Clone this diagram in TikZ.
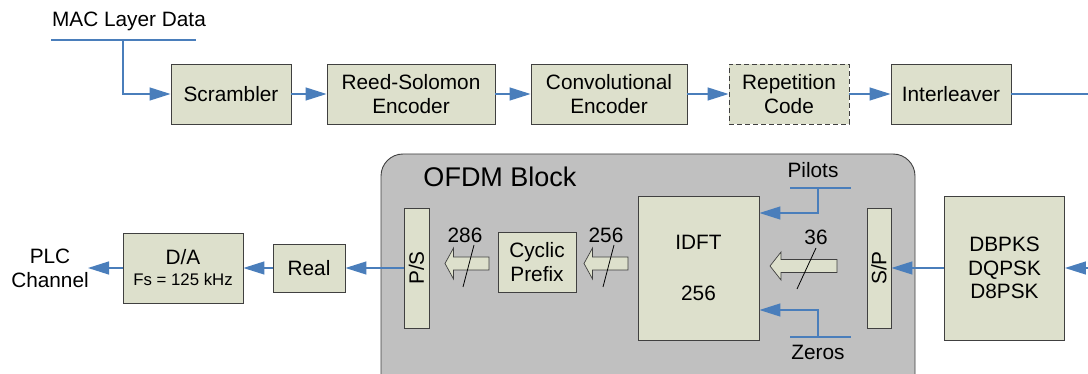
\documentclass[tikz,border=0pt]{standalone}
\usepackage{fontspec}
\setmainfont{Liberation Sans}
\usetikzlibrary{arrows.meta}
\definecolor{boxfill}{HTML}{DDE0CC}
\definecolor{boxline}{HTML}{404040}
\definecolor{flowblue}{HTML}{4A7EBB}
\definecolor{ofdmgray}{HTML}{C0C0C0}
\newcommand\fsmain{\fontsize{20.8}{24}\selectfont}
\newcommand\fssmall{\fontsize{16.8}{19}\selectfont}
\newcommand\fsbig{\fontsize{27}{30}\selectfont}
% wide hollow arrow pointing left: tip x, tail x, centre y, half head, head length
\newcommand\fatleft[5]{%
  \draw[fatstyle] (#2,#3-6.5) -- (#1+#5,#3-6.5) -- (#1+#5,#3-#4) -- (#1,#3)
    -- (#1+#5,#3+#4) -- (#1+#5,#3+6.5) -- (#2,#3+6.5) -- cycle;}
\tikzset{
  blk/.style={draw=boxline, fill=boxfill, line width=0.9pt, inner sep=0pt,
    align=center, font=\fsmain},
  flow/.style={draw=flowblue, line width=1.3pt,
    -{Triangle[length=21pt,width=13pt]}},
  bar/.style={draw=flowblue, line width=1.3pt},
  fatstyle/.style={draw=boxline, fill=boxfill, line width=0.7pt},
  slash/.style={draw=black, line width=0.8pt},
  lbl/.style={inner sep=0pt, font=\fsmain, align=center},
}
\begin{document}
\begin{tikzpicture}[x=1pt, y=-1pt]
  \useasboundingbox (0,0) rectangle (1088,374);
  \clip (0,0) rectangle (1088,374);

  % ---- channel coding chain ----
  \node[lbl] (mac) at (129,21) {MAC Layer Data};
  \coordinate (macl) at (51,40);
  \coordinate (macr) at (196,40);
  \coordinate (macdrop) at (123,40);
  \draw[bar] (macl) -- (macr);

  \node[blk, minimum width=120pt, minimum height=60pt] (scr) at (231,94) {Scrambler};
  \node[blk, minimum width=168pt, minimum height=60pt] (rs) at (411,94) {Reed-Solomon\\Encoder};
  \node[blk, minimum width=156pt, minimum height=60pt] (conv) at (609,94) {Convolutional\\Encoder};
  \node[blk, dash pattern=on 5pt off 3pt, minimum width=120pt, minimum height=60pt] (rep) at (789,94) {Repetition\\Code};
  \node[blk, minimum width=120pt, minimum height=60pt] (intl) at (951,94) {Interleaver};
  \coordinate (outr) at (1088,94);

  \draw[flow] (macdrop) |- (scr.west);
  \draw[flow] (scr) -- (rs);
  \draw[flow] (rs) -- (conv);
  \draw[flow] (conv) -- (rep);
  \draw[flow] (rep) -- (intl);
  \draw[bar] (intl.east) -- (outr);

  % ---- OFDM block ----
  \draw[draw=boxline, fill=ofdmgray, line width=0.9pt, rounded corners=22pt]
    (381,154) rectangle (915,420);
  \node[inner sep=0pt, font=\fsbig] (ofdm) at (500,177) {OFDM Block};

  \node[blk, minimum width=25pt, minimum height=120pt] (ps) at (416.5,268) {};
  \node[lbl, rotate=90] at (ps) {P/S};
  \node[blk, minimum width=78pt, minimum height=60pt] (cp) at (537,262) {Cyclic\\Prefix};
  \node[blk, minimum width=121pt, minimum height=144pt] (idft) at (698.5,268) {IDFT\\[27pt]256};
  \node[blk, minimum width=24pt, minimum height=120pt] (sp) at (879,268) {};
  \node[lbl, rotate=90] at (sp) {S/P};
  \node[blk, minimum width=120pt, minimum height=144pt] (mod) at (1004.5,268) {DBPKS\\[-0.5pt]DQPSK\\[-0.5pt]D8PSK};
  \coordinate (inr) at (1088,268);

  % pilots and zeros
  \node[lbl] (pil) at (813,170) {Pilots};
  \coordinate (pill) at (790,188);
  \coordinate (pilr) at (851,188);
  \coordinate (pild) at (818,188);
  \draw[bar] (pill) -- (pilr);
  \draw[flow] (pild) |- ([yshift=55pt]idft.east);

  \node[lbl] (zer) at (818,352) {Zeros};
  \coordinate (zerl) at (790,337);
  \coordinate (zerr) at (851,337);
  \coordinate (zeru) at (818,337);
  \draw[bar] (zerl) -- (zerr);
  \draw[flow] (zeru) |- ([yshift=-42pt]idft.east);

  % parallel busses with widths
  \fatleft{770}{837}{266}{14}{11}
  \draw[slash] (816,248) -- (797,289);
  \node[lbl] (w36) at (816,237) {36};

  \fatleft{584}{628}{263.5}{15.5}{8.5}
  \draw[slash] (614,245) -- (603,287);
  \node[lbl] (w256) at (606,235) {256};

  \fatleft{445}{489}{263.5}{15.5}{8.5}
  \draw[slash] (474,245) -- (463,287);
  \node[lbl] (w286) at (465,235) {286};

  \draw[flow] (inr) -- (mod.east);
  \draw[flow] (mod.west) -- (sp.east);

  % ---- output stage ----
  \node[blk, minimum width=72pt, minimum height=48pt] (real) at (309,268) {Real};
  \node[blk, minimum width=120pt, minimum height=70pt] (da) at (183,268)
    {D/A\\[-3pt]{\fssmall Fs = 125 kHz}};
  \node[lbl] (plc) at (50,268) {PLC\\Channel};
  \coordinate (plctip) at (88,268);

  \draw[flow] (ps.west) -- (real.east);
  \draw[flow] (real) -- (da);
  \draw[flow] (da.west) -- (plctip);
\end{tikzpicture}
\end{document}
